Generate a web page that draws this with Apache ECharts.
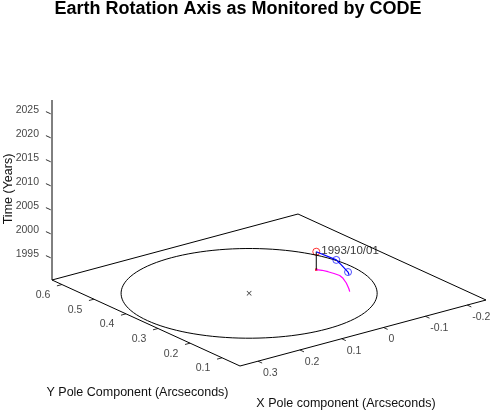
<!DOCTYPE html>
<html>
<head>
<meta charset="utf-8">
<script src="https://cdn.jsdelivr.net/npm/echarts@6/dist/echarts.min.js"></script>
<style>
  html, body { margin: 0; padding: 0; background: #fff; }
  #chart { width: 493px; height: 413px; }
</style>
</head>
<body>
<div id="chart"></div>
<script>
// axis ranges: x, y in arcseconds, z in years
const xRange = [-0.245, 0.343]
const yRange = [0.044, 0.631]
const zRange = [1990, 2027.5]

const xTicks = [0.3, 0.2, 0.1, 0, -0.1, -0.2]
const yTicks = [0.6, 0.5, 0.4, 0.3, 0.2, 0.1]
const zTicks = [1995, 2000, 2005, 2010, 2015, 2020, 2025]

// mean pole and the reference circle round it
const meanPole = [0.090, 0.346]
const circleRadius = 0.243

// CODE pole path in time (blue)
const codeX = [-0.0891, -0.0919, -0.0830, -0.0691, -0.0617]
const codeY = [0.3703, 0.3114, 0.2842, 0.2450, 0.2322]
const codeT = [1993.75, 1993.77, 1993.78, 1993.80, 1993.81]
const codeMarked = [1, 3]

// path on the base plane (magenta)
const baseX = [-0.0891, -0.0958, -0.1002, -0.1033, -0.1053, -0.1011, -0.0905, -0.0809, -0.0748, -0.0670]
const baseY = [0.3703, 0.3611, 0.3481, 0.3334, 0.3183, 0.3024, 0.2784, 0.2605, 0.2495, 0.2371]

const startLabel = '1993/10/01'

// fake 3d: page position of the (xmax, ymin, zmin) corner and the axis edges
const view = { origin: [240, 366], ex: [246, -66], ey: [-188, -86], ez: [0, -180] }
const W = 493, H = 413
const font = '"Liberation Sans", Arial, sans-serif'

function proj (x, y, z) {
    const u = (x - xRange[1]) / (xRange[0] - xRange[1])
    const v = (y - yRange[0]) / (yRange[1] - yRange[0])
    const w = (z - zRange[0]) / (zRange[1] - zRange[0])
    return [
        view.origin[0] + u * view.ex[0] + v * view.ey[0] + w * view.ez[0],
        view.origin[1] + u * view.ex[1] + v * view.ey[1] + w * view.ez[1]
    ]
}

const [x0, x1] = xRange
const [y0, y1] = yRange
const [z0, z1] = zRange

const box = [proj(x1, y1, z0), proj(x1, y0, z0), proj(x0, y0, z0), proj(x0, y1, z0), proj(x1, y1, z0)]
const zAxisLine = [proj(x1, y1, z0), proj(x1, y1, z1)]

const ticks = []
xTicks.forEach(t => ticks.push([proj(t, y0, z0), proj(t, y0 - 0.013, z0)]))
yTicks.forEach(t => ticks.push([proj(x1, t, z0), proj(x1 + 0.012, t, z0)]))
zTicks.forEach(t => ticks.push([proj(x1, y1 + 0.019, t - 0.5), proj(x1, y1 + 0.004, t - 0.5)]))

const circle = []
for (let i = 0; i <= 120; i++) {
    const a = i / 120 * Math.PI * 2
    circle.push(proj(meanPole[0] + circleRadius * Math.cos(a), meanPole[1] + circleRadius * Math.sin(a), z0))
}

const codePath = codeX.map((x, i) => proj(x, codeY[i], codeT[i]))
const basePath = baseX.map((x, i) => proj(x, baseY[i], z0))
const dropLine = [proj(codeX[0], codeY[0], codeT[0]), proj(codeX[0], codeY[0], z0)]

function plainLine (data, color, width) {
    return {
        type: 'line', data, symbol: 'none', silent: true,
        lineStyle: { color, width }
    }
}

function textSeries (data, label) {
    return {
        type: 'scatter', data, symbolSize: 1, silent: true,
        itemStyle: { color: 'transparent' },
        label: Object.assign({
            show: true, position: 'inside', formatter: '{b}',
            color: '#111', fontFamily: font, fontSize: 10.5
        }, label)
    }
}

const chart = echarts.init(document.getElementById('chart'))
chart.setOption({
    animation: false,
    backgroundColor: '#fff',
    grid: { left: 0, right: 0, top: 0, bottom: 0 },
    xAxis: { type: 'value', min: 0, max: W, show: false },
    yAxis: { type: 'value', min: 0, max: H, inverse: true, show: false },
    graphic: [
        { type: 'text', x: 238, y: 9, style: { text: 'Earth Rotation Axis as Monitored by CODE', font: 'bold 18px ' + font, fill: '#000', align: 'center', verticalAlign: 'middle' } },
        { type: 'text', x: 8.5, y: 189, rotation: Math.PI / 2, style: { text: 'Time (Years)', font: '12.5px ' + font, fill: '#111', align: 'center', verticalAlign: 'middle' } },
        { type: 'text', x: 137.5, y: 393, style: { text: 'Y Pole Component (Arcseconds)', font: '12.5px ' + font, fill: '#111', align: 'center', verticalAlign: 'middle' } },
        { type: 'text', x: 346, y: 404, style: { text: 'X Pole component (Arcseconds)', font: '12.5px ' + font, fill: '#111', align: 'center', verticalAlign: 'middle' } }
    ],
    series: [
        plainLine(box, '#000', 1),
        plainLine(zAxisLine, '#000', 1),
        {
            type: 'lines', coordinateSystem: 'cartesian2d', silent: true,
            data: ticks.map(c => ({ coords: c })),
            lineStyle: { color: '#333', width: 1, opacity: 1 }
        },
        plainLine(circle, '#000', 1),
        {
            type: 'scatter', silent: true, data: [proj(meanPole[0], meanPole[1], z0)],
            symbol: 'path://M0,1L1,0L5,4L9,0L10,1L6,5L10,9L9,10L5,6L1,10L0,9L4,5Z', symbolSize: 5,
            itemStyle: { color: '#000' }
        },
        plainLine(basePath, '#ff00ff', 1.2),
        plainLine(dropLine, '#000', 1),
        plainLine(codePath, '#0000ff', 1.2),
        {
            type: 'scatter', silent: true, data: codeMarked.map(i => codePath[i]),
            symbol: 'circle', symbolSize: 7,
            itemStyle: { color: 'transparent', borderColor: '#2020ff', borderWidth: 1 }
        },
        {
            type: 'scatter', silent: true, data: [codePath[0]],
            symbol: 'circle', symbolSize: 7,
            itemStyle: { color: 'transparent', borderColor: '#ff0000', borderWidth: 1 }
        },
        {
            type: 'scatter', silent: true, data: [dropLine[1]],
            symbol: 'rect', symbolSize: 2.5,
            itemStyle: { color: '#ff0000' }
        },
        textSeries(xTicks.map(t => ({ name: String(t), value: proj(t, y0, z0) })),
            { align: 'left', verticalAlign: 'middle', offset: [5, 12] }),
        textSeries(yTicks.map(t => ({ name: String(t), value: proj(x1, t, z0) })),
            { align: 'center', verticalAlign: 'middle', offset: [-19, 10.5] }),
        textSeries(zTicks.map(t => ({ name: String(t), value: proj(x1, y1, t) })),
            { align: 'right', verticalAlign: 'middle', offset: [-13, -1.5] }),
        textSeries([{ name: startLabel, value: codePath[0] }],
            { align: 'left', verticalAlign: 'middle', offset: [5, -1], fontSize: 11.5, color: '#000' })
    ]
})
</script>
</body>
</html>
